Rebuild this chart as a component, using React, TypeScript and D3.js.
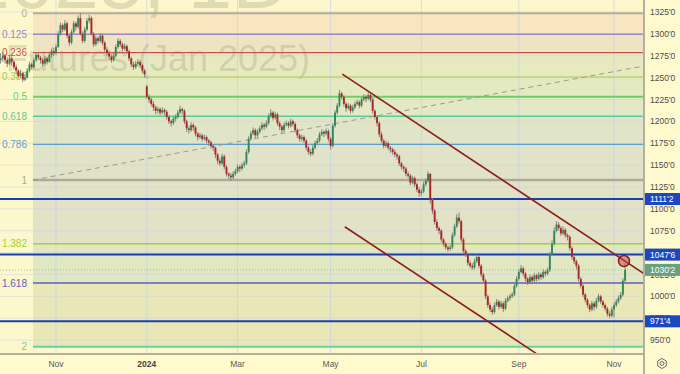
import React from "react";
import * as d3 from "d3";

const W = 680;
const H = 374;
const PANE_R = 644;
const PANE_B = 354;

// Daily OHLC, Soybean Futures (Jan 2025), from 2023-09-27
const ohlc: [number, number, number, number][] = [
  [1270,1278,1266,1272],[1272,1279,1268,1275],[1275,1277,1266,1270],[1270,1273,1262,1266],[1266,1276,1264,1272],
  [1272,1274,1264,1268],[1268,1270,1259,1262],[1262,1265,1254,1258],[1258,1260,1249,1252],[1252,1259,1250,1255],
  [1255,1257,1245,1248],[1248,1254,1246,1250],[1250,1261,1249,1258],[1258,1268,1256,1265],[1265,1267,1259,1262],
  [1262,1273,1260,1270],[1270,1279,1268,1276],[1276,1278,1270,1273],[1273,1275,1266,1270],[1270,1272,1263,1266],
  [1266,1275,1264,1272],[1272,1274,1265,1268],[1268,1279,1267,1276],[1276,1283,1273,1280],[1280,1284,1275,1278],
  [1278,1288,1276,1285],[1285,1303,1284,1300],[1300,1313,1298,1310],[1310,1312,1302,1305],[1305,1316,1303,1312],
  [1312,1314,1295,1298],[1298,1300,1286,1290],[1290,1305,1288,1302],[1302,1315,1300,1312],[1312,1314,1304,1308],
  [1308,1321,1306,1318],[1318,1324,1298,1300],[1300,1303,1289,1292],[1292,1308,1290,1305],[1305,1318,1303,1315],
  [1315,1322,1312,1318],[1318,1320,1298,1300],[1300,1302,1285,1288],[1288,1298,1286,1295],[1295,1297,1289,1292],
  [1292,1301,1290,1298],[1298,1300,1287,1290],[1290,1292,1279,1282],[1282,1285,1275,1278],[1278,1281,1270,1274],
  [1274,1277,1267,1270],[1270,1278,1268,1275],[1275,1288,1273,1285],[1285,1295,1283,1292],[1292,1294,1285,1288],
  [1288,1290,1280,1283],[1283,1289,1281,1286],[1286,1288,1277,1280],[1280,1282,1269,1272],[1272,1274,1262,1265],
  [1265,1268,1259,1262],[1262,1269,1260,1266],[1266,1271,1263,1268],[1268,1270,1261,1264],[1264,1266,1255,1258],
  [1258,1260,1250,1254],[1240,1242,1226,1228],[1228,1231,1221,1225],[1225,1227,1217,1220],[1220,1223,1212,1216],
  [1216,1218,1208,1212],[1212,1217,1209,1214],[1214,1216,1207,1210],[1210,1216,1208,1213],[1213,1215,1207,1211],
  [1211,1213,1202,1205],[1205,1207,1197,1200],[1200,1202,1194,1198],[1198,1206,1196,1203],[1203,1208,1200,1205],
  [1205,1213,1203,1210],[1210,1218,1208,1214],[1214,1216,1208,1212],[1212,1214,1197,1200],[1200,1202,1188,1192],
  [1192,1195,1186,1190],[1190,1199,1188,1196],[1196,1198,1189,1193],[1193,1195,1183,1186],[1186,1188,1178,1182],
  [1182,1187,1180,1184],[1184,1186,1177,1180],[1180,1185,1178,1182],[1182,1184,1175,1178],[1178,1180,1172,1176],
  [1176,1178,1169,1172],[1172,1174,1166,1170],[1170,1171,1158,1162],[1162,1164,1151,1155],[1155,1158,1149,1152],
  [1152,1163,1150,1160],[1160,1162,1145,1148],[1148,1150,1137,1140],[1140,1142,1134,1138],[1138,1141,1132,1136],
  [1136,1143,1134,1140],[1140,1146,1138,1143],[1143,1151,1141,1148],[1148,1150,1142,1146],[1146,1153,1144,1150],
  [1150,1155,1147,1152],[1152,1168,1150,1165],[1165,1183,1163,1180],[1180,1189,1178,1186],[1186,1193,1184,1190],
  [1190,1192,1181,1184],[1184,1191,1182,1188],[1188,1195,1186,1192],[1192,1199,1190,1196],[1196,1198,1190,1194],
  [1194,1201,1192,1198],[1198,1209,1196,1206],[1206,1214,1204,1210],[1210,1212,1201,1204],[1204,1211,1202,1208],
  [1208,1210,1195,1198],[1198,1200,1190,1194],[1194,1196,1186,1190],[1190,1199,1188,1196],[1196,1201,1194,1198],
  [1198,1200,1192,1195],[1195,1203,1193,1200],[1200,1202,1194,1197],[1197,1199,1187,1190],[1190,1192,1181,1184],
  [1184,1186,1177,1180],[1180,1185,1177,1182],[1182,1184,1175,1178],[1178,1180,1167,1170],[1170,1172,1162,1165],
  [1165,1168,1160,1163],[1163,1173,1161,1170],[1170,1178,1168,1175],[1175,1181,1173,1178],[1178,1188,1176,1185],
  [1185,1191,1183,1188],[1188,1190,1182,1186],[1186,1192,1184,1189],[1189,1191,1177,1180],[1180,1182,1168,1172],
  [1172,1198,1170,1195],[1195,1213,1193,1210],[1210,1221,1208,1218],[1218,1236,1216,1232],[1232,1234,1225,1228],
  [1228,1230,1217,1220],[1220,1222,1211,1215],[1215,1221,1213,1218],[1218,1220,1209,1212],[1212,1219,1210,1216],
  [1216,1223,1214,1220],[1220,1225,1218,1222],[1222,1224,1215,1218],[1218,1228,1216,1225],[1225,1231,1223,1228],
  [1228,1230,1222,1226],[1226,1233,1224,1230],[1230,1232,1222,1225],[1225,1227,1209,1212],[1212,1214,1202,1205],
  [1205,1207,1194,1198],[1198,1200,1182,1185],[1185,1188,1175,1178],[1178,1180,1169,1172],[1172,1178,1170,1175],
  [1175,1177,1167,1170],[1170,1172,1164,1168],[1168,1170,1162,1165],[1165,1168,1159,1162],[1162,1164,1156,1160],
  [1160,1162,1149,1152],[1152,1154,1145,1148],[1148,1150,1142,1146],[1146,1148,1137,1140],[1140,1143,1135,1138],
  [1138,1140,1127,1130],[1130,1138,1128,1135],[1135,1137,1125,1128],[1128,1130,1119,1122],[1122,1125,1114,1118],
  [1118,1123,1115,1120],[1120,1131,1118,1128],[1128,1135,1126,1132],[1132,1143,1130,1140],[1140,1141,1106,1110],
  [1110,1112,1094,1098],[1098,1100,1082,1085],[1085,1088,1075,1078],[1078,1080,1071,1075],[1075,1077,1062,1065],
  [1065,1067,1057,1060],[1060,1062,1053,1056],[1056,1058,1051,1054],[1054,1059,1052,1056],[1056,1073,1054,1070],
  [1070,1083,1068,1080],[1080,1094,1078,1090],[1090,1096,1083,1086],[1086,1088,1062,1065],[1065,1067,1049,1052],
  [1052,1054,1045,1048],[1048,1050,1035,1038],[1038,1041,1032,1035],[1035,1038,1030,1033],[1033,1043,1031,1040],
  [1040,1048,1038,1045],[1045,1047,1032,1035],[1035,1037,1022,1025],[1025,1027,1015,1018],[1018,1020,997,1000],
  [1000,1002,987,990],[990,993,982,985],[985,988,979,982],[982,993,980,990],[990,997,988,994],
  [994,996,985,988],[988,995,986,992],[992,994,982,986],[986,998,984,995],[995,1001,993,998],
  [998,1003,995,1000],[1000,1005,998,1002],[1002,1015,1000,1012],[1012,1023,1010,1020],[1020,1031,1018,1028],
  [1028,1036,1026,1032],[1032,1034,1023,1026],[1026,1028,1017,1020],[1020,1022,1013,1016],[1016,1025,1014,1022],
  [1022,1024,1015,1018],[1018,1027,1016,1024],[1024,1026,1017,1020],[1020,1028,1018,1025],[1025,1027,1019,1022],
  [1022,1031,1020,1028],[1028,1030,1023,1026],[1026,1033,1024,1030],[1030,1051,1028,1048],[1048,1064,1046,1060],
  [1060,1079,1058,1075],[1075,1086,1073,1082],[1082,1085,1075,1078],[1078,1080,1069,1072],[1072,1080,1070,1076],
  [1076,1078,1067,1070],[1070,1072,1064,1068],[1068,1070,1052,1055],[1055,1057,1042,1045],[1045,1047,1037,1040],
  [1040,1042,1031,1035],[1035,1037,1017,1020],[1020,1022,1009,1012],[1012,1014,999,1002],[1002,1004,993,996],
  [996,998,987,990],[990,992,982,985],[985,995,983,992],[992,994,984,988],[988,998,986,995],
  [995,1003,993,1000],[1000,1002,991,994],[994,996,987,990],[990,992,983,986],[986,988,977,980],
  [980,983,975,978],[978,988,976,985],[985,993,976,990],[990,997,988,994],[994,1001,992,998],
  [998,1005,996,1002],[1002,1021,1000,1018],[1018,1038,1016,1030.25],
];

const startDate = "2023-09-27";
const holidays = [
  "2023-11-23", "2023-12-25", "2024-01-01", "2024-01-15", "2024-02-19",
  "2024-03-29", "2024-05-27", "2024-06-19", "2024-07-04", "2024-09-02",
];

const monthTicks = [
  { month: "2023-11", label: "Nov", bold: false },
  { month: "2024-01", label: "2024", bold: true },
  { month: "2024-03", label: "Mar", bold: false },
  { month: "2024-05", label: "May", bold: false },
  { month: "2024-07", label: "Jul", bold: false },
  { month: "2024-09", label: "Sep", bold: false },
  { month: "2024-11", label: "Nov", bold: false },
];

const priceTicks = [950, 975, 1000, 1025, 1050, 1075, 1100, 1125, 1150, 1175, 1200, 1225, 1250, 1275, 1300, 1325];

// Fibonacci retracement
const fibHigh = 1323.5;
const fibLow = 1133;
const fibAnchorIndex = 14.6;
const fibLevels = [0, 0.125, 0.236, 0.382, 0.5, 0.618, 0.786, 1, 1.382, 1.618, 2];
const fibLabels = ["0", "0.125", "0.236", "0.382", "0.5", "0.618", "0.786", "1", "1.382", "1.618", "2"];
const fibLineColors = ["#b2ad9a", "#9a88c8", "#c9514b", "#a9cc48", "#6ccf66", "#5ccb98", "#5a9fd0", "#aeaa98", "#a6d03c", "#5e5ec8", "#66d2a0"];
const fibLineWidths = [2, 1.5, 1.2, 1.2, 2, 1.5, 1.2, 2.5, 1.5, 1.5, 2];
const fibFills = ["#f9e6bf", "#ede4c2", "#e7eabf", "#e4eabf", "#e2e9c4", "#e1e5c7", "#e1e3c8", "#e1e2c6", "#e1e7c0", "#e9e7b6"];

// horizontal levels
const levelPrices = [1111.25, 1047.75, 971.5];
const lastPrice = 1030.25;

// trend lines: [barIndex, price]
const dashedTrend: [number, number][] = [[14.6, 1133], [290.5, 1263.3]];
const channelUpper: [number, number][] = [[154.3, 1254], [290.5, 1026]];
const channelLower: [number, number][] = [[155.4, 1079.6], [241.8, 934.9]];
const markerPoint: [number, number] = [281.5, 1040.4];

function buildDates(n: number): Date[] {
  const out: Date[] = [];
  const hol = new Set(holidays);
  const d = new Date(startDate + "T12:00:00Z");
  while (out.length < n) {
    const wd = d.getUTCDay();
    const key = d.toISOString().slice(0, 10);
    if (wd !== 0 && wd !== 6 && !hol.has(key)) out.push(new Date(d));
    d.setUTCDate(d.getUTCDate() + 1);
  }
  return out;
}

function fmtPrice(v: number): string {
  const whole = Math.floor(v);
  const eighths = Math.round((v - whole) * 8);
  return `${whole}'${eighths}`;
}

export default function App() {
  const n = ohlc.length;
  const dates = buildDates(n);
  const x = d3.scaleLinear().domain([0, n - 1]).range([0.64, 625.1]);
  const y = d3.scaleLinear().domain([950, 1325]).range([340.125, 12]);
  const fibPrice = (l: number) => fibHigh - l * (fibHigh - fibLow);
  const fibX0 = x(fibAnchorIndex);

  const tickIdx = monthTicks.map((t) => {
    const i = dates.findIndex((d) => d.toISOString().slice(0, 7) === t.month);
    return { ...t, i };
  });

  const line = d3.line<[number, number]>().x((d) => x(d[0])).y((d) => y(d[1]));
  const font = "'Liberation Sans', Arial, sans-serif";
  const bodyW = 1.9;

  return (
    <svg width={W} height={H} style={{ position: "fixed", left: 0, top: 0, display: "block" }} fontFamily={font}>
      <defs>
        <clipPath id="pane">
          <rect x={0} y={0} width={PANE_R} height={PANE_B} />
        </clipPath>
      </defs>
      <rect x={0} y={0} width={W} height={H} fill="#fffacd" />
      <g clipPath="url(#pane)">
        <rect x={0} y={0} width={PANE_R} height={PANE_B} fill="#fcf8cb" />
        {fibLevels.slice(0, -1).map((l, k) => {
          const y0 = y(fibPrice(l));
          const y1 = y(fibPrice(fibLevels[k + 1]));
          return <rect key={"ff" + k} x={fibX0} y={y0} width={PANE_R - fibX0} height={y1 - y0} fill={fibFills[k]} />;
        })}
        {priceTicks.map((p) => (
          <line key={"hg" + p} x1={0} x2={PANE_R} y1={y(p)} y2={y(p)} stroke="rgba(205,210,228,0.55)" strokeWidth={1} />
        ))}
        {tickIdx.map((t) => (
          <line key={"vg" + t.month} x1={x(t.i)} x2={x(t.i)} y1={0} y2={PANE_B} stroke="rgba(190,205,232,0.6)" strokeWidth={1} />
        ))}
        <text x={290} y={8} textAnchor="end" fontSize={80} fill="rgba(110,105,80,0.2)">ZSF2025, 1D</text>
        <text x={310} y={71} textAnchor="end" fontSize={36} fill="rgba(110,105,80,0.2)">Soybean Futures (Jan 2025)</text>
        {fibLevels.map((l, k) => (
          <line key={"fl" + k} x1={fibX0} x2={PANE_R} y1={y(fibPrice(l))} y2={y(fibPrice(l))} stroke={fibLineColors[k]} strokeWidth={fibLineWidths[k]} />
        ))}
        {fibLevels.map((l, k) => (
          <text key={"ft" + k} x={27} y={y(fibPrice(l))} textAnchor="end" dominantBaseline="central" fontSize={10} fill={fibLineColors[k]}>
            {fibLabels[k]}
          </text>
        ))}
        <path d={line(dashedTrend) || ""} stroke="#9d9a8c" strokeWidth={1} strokeDasharray="5 4" fill="none" />
        <line x1={0} x2={PANE_R} y1={y(lastPrice)} y2={y(lastPrice)} stroke="#8cc49a" strokeWidth={1} strokeDasharray="1 2" />
        {levelPrices.map((p) => (
          <line key={"lv" + p} x1={0} x2={PANE_R} y1={y(p)} y2={y(p)} stroke="#1c3fae" strokeWidth={2} />
        ))}
        {ohlc.map((d, i) => {
          const [o, h, l, c] = d;
          const up = c >= o;
          const cx = x(i);
          const top = y(Math.max(o, c));
          const bot = y(Math.min(o, c));
          return (
            <g key={"c" + i}>
              <line x1={cx} x2={cx} y1={y(h)} y2={y(l)} stroke="#85857c" strokeWidth={1} />
              <rect x={cx - bodyW / 2} y={top} width={bodyW} height={Math.max(0.8, bot - top)} fill={up ? "#33865a" : "#ad2326"} />
            </g>
          );
        })}
        <path d={line(channelUpper) || ""} stroke="#8e1c1c" strokeWidth={1.6} fill="none" />
        <path d={line(channelLower) || ""} stroke="#8e1c1c" strokeWidth={1.6} fill="none" />
        <circle cx={x(markerPoint[0])} cy={y(markerPoint[1])} r={5.5} fill="rgba(190,70,70,0.5)" stroke="#8e1c1c" strokeWidth={1.5} />
      </g>
      <line x1={PANE_R} x2={PANE_R} y1={0} y2={H} stroke="#b3b19c" strokeWidth={2} />
      <line x1={0} x2={PANE_R} y1={PANE_B} y2={PANE_B} stroke="#b3b19c" strokeWidth={2} />
      {priceTicks.map((p) => (
        <text key={"pt" + p} x={650} y={y(p)} dominantBaseline="central" fontSize={8.5} fill="#4d4d4d">
          {fmtPrice(p)}
        </text>
      ))}
      {levelPrices.map((p) => (
        <g key={"lb" + p}>
          <rect x={645} y={y(p) - 6} width={36} height={12} fill="#1d47c2" />
          <text x={650} y={y(p)} dominantBaseline="central" fontSize={8.5} fill="#ffffff">{fmtPrice(p)}</text>
        </g>
      ))}
      <rect x={645} y={y(lastPrice) - 6} width={36} height={12} fill="#6a9f7f" />
      <text x={650} y={y(lastPrice)} dominantBaseline="central" fontSize={8.5} fill="#ffffff">{fmtPrice(lastPrice)}</text>
      {tickIdx.map((t) => (
        <text key={"bt" + t.month} x={x(t.i)} y={364} textAnchor="middle" dominantBaseline="central" fontSize={8.5} fontWeight={t.bold ? "bold" : "normal"} fill={t.bold ? "#444" : "#5a5a5a"}>
          {t.label}
        </text>
      ))}
      <g transform="translate(662,363.5)" fill="none" stroke="#6d6d6d" strokeWidth={1}>
        <path d={d3.range(6).map((k) => { const a = (Math.PI / 3) * k + Math.PI / 6; return (k ? "L" : "M") + (5 * Math.cos(a)).toFixed(2) + "," + (5 * Math.sin(a)).toFixed(2); }).join("") + "Z"} />
        <circle r={2} />
      </g>
    </svg>
  );
}
